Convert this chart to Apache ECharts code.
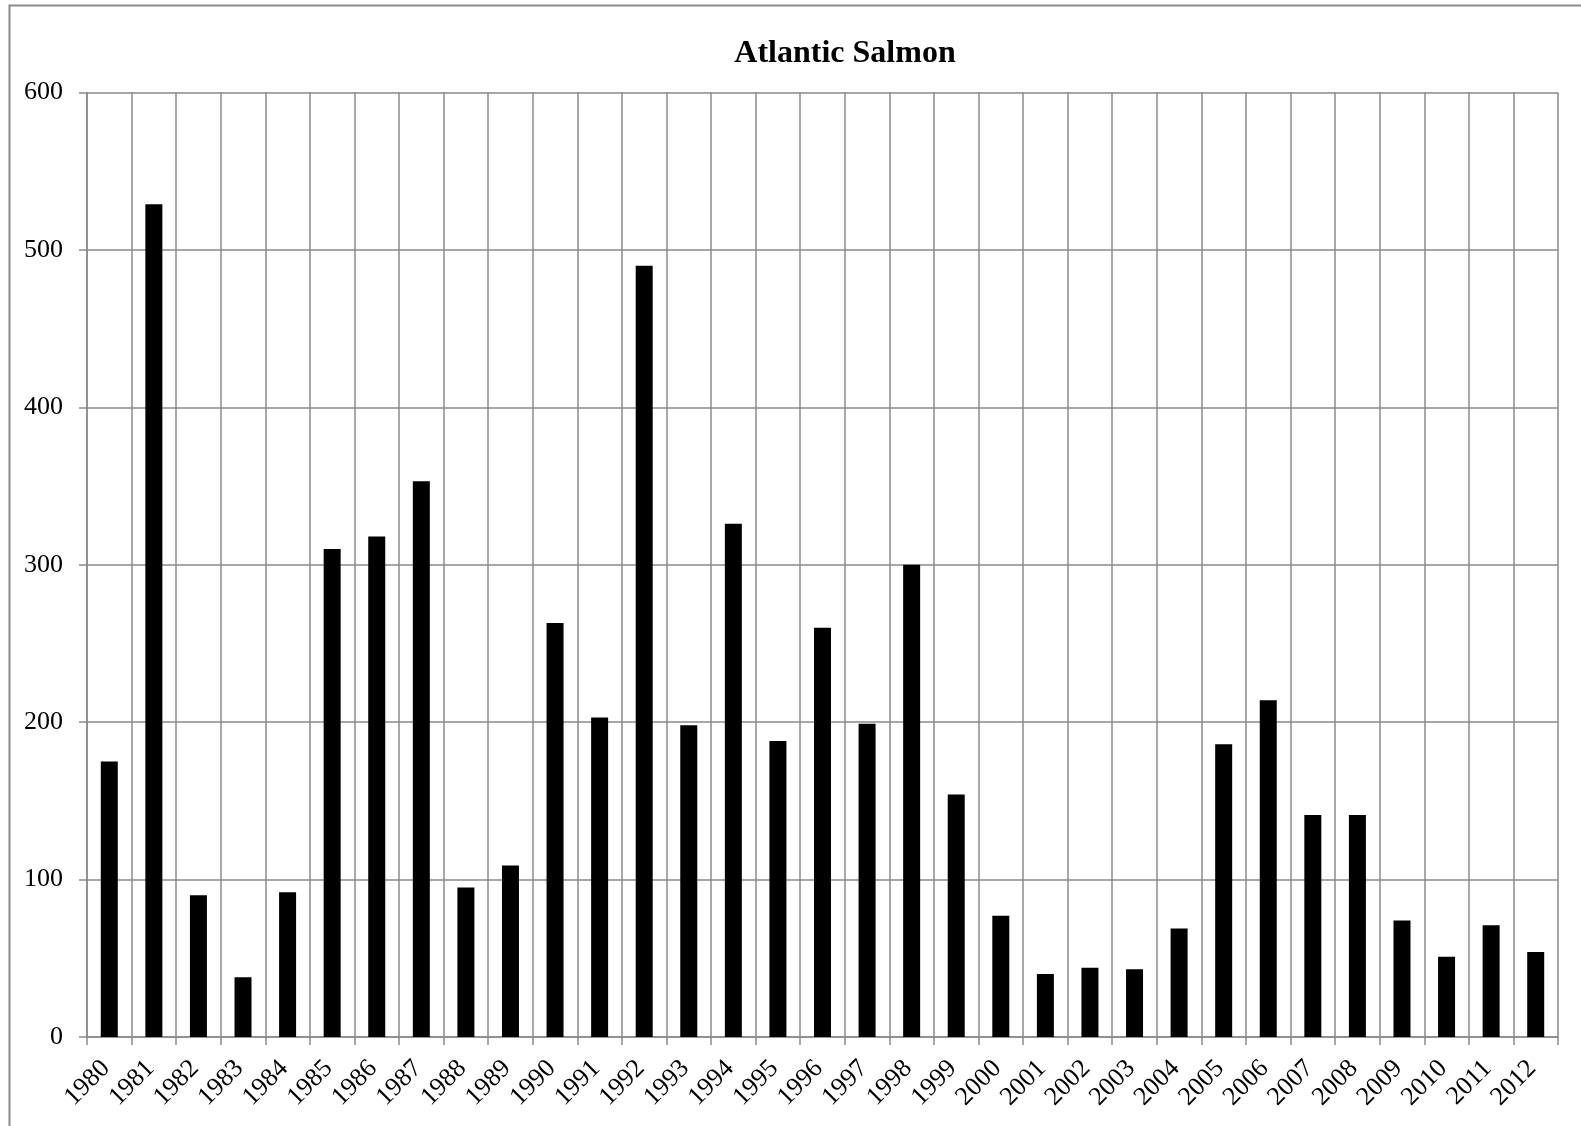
<!DOCTYPE html>
<html>
<head>
<meta charset="utf-8">
<script src="https://cdn.jsdelivr.net/npm/echarts@6/dist/echarts.min.js"></script>
<style>html,body{margin:0;padding:0;background:#fff;}#c{width:1581px;height:1126px;}</style>
</head>
<body>
<div id="c"></div>
<script>
var years = ['1980','1981','1982','1983','1984','1985','1986','1987','1988','1989','1990','1991','1992','1993','1994','1995','1996','1997','1998','1999','2000','2001','2002','2003','2004','2005','2006','2007','2008','2009','2010','2011','2012'];
var salmon = [175,529,90,38,92,310,318,353,95,109,263,203,490,198,326,188,260,199,300,154,77,40,44,43,69,186,214,141,141,74,51,71,54];
var yTicks = [0,100,200,300,400,500,600];

var chart = echarts.init(document.getElementById('c'));
var font = '"Liberation Serif", "Times New Roman", serif';
var gridColor = '#8a8a8a';
chart.setOption({
  animation: false,
  backgroundColor: '#fff',
  title: {
    text: 'Atlantic Salmon',
    left: 840, top: 33, textAlign: 'center',
    textStyle: {fontFamily: font, fontWeight: 'bold', fontSize: 32, color: '#000'}
  },
  graphic: [{
    type: 'rect', left: 7, top: 3, z: -1,
    shape: {width: 1600, height: 1200},
    style: {fill: 'none', stroke: '#8a8a8a', lineWidth: 2}
  }],
  grid: {left: 87, right: 23, top: 92.5, bottom: 89, containLabel: false},
  xAxis: {
    type: 'category', data: years, boundaryGap: true,
    axisLine: {show: true, lineStyle: {color: gridColor, width: 1.5}},
    axisTick: {show: true, interval: 0, length: 8, lineStyle: {color: gridColor, width: 1.5}},
    splitLine: {show: true, interval: 0, lineStyle: {color: gridColor, width: 1.5}},
    axisLabel: {interval: 0, rotate: 45, margin: 24, padding: [0, 5, 0, 0], fontFamily: font, fontSize: 26, color: '#000'}
  },
  yAxis: {
    type: 'value', min: 0, max: 600, interval: 100,
    axisLine: {show: true, lineStyle: {color: gridColor, width: 1.5}},
    axisTick: {show: true, length: 8, lineStyle: {color: gridColor, width: 1.5}},
    splitLine: {show: true, lineStyle: {color: gridColor, width: 1.5}},
    axisLabel: {margin: 24, fontFamily: font, fontSize: 26, color: '#000',
      formatter: function (v) { return yTicks.indexOf(v) >= 0 ? String(v) : ''; }}
  },
  series: [{
    type: 'bar', data: salmon, barWidth: 17,
    itemStyle: {color: '#000'}
  }]
});
</script>
</body>
</html>
